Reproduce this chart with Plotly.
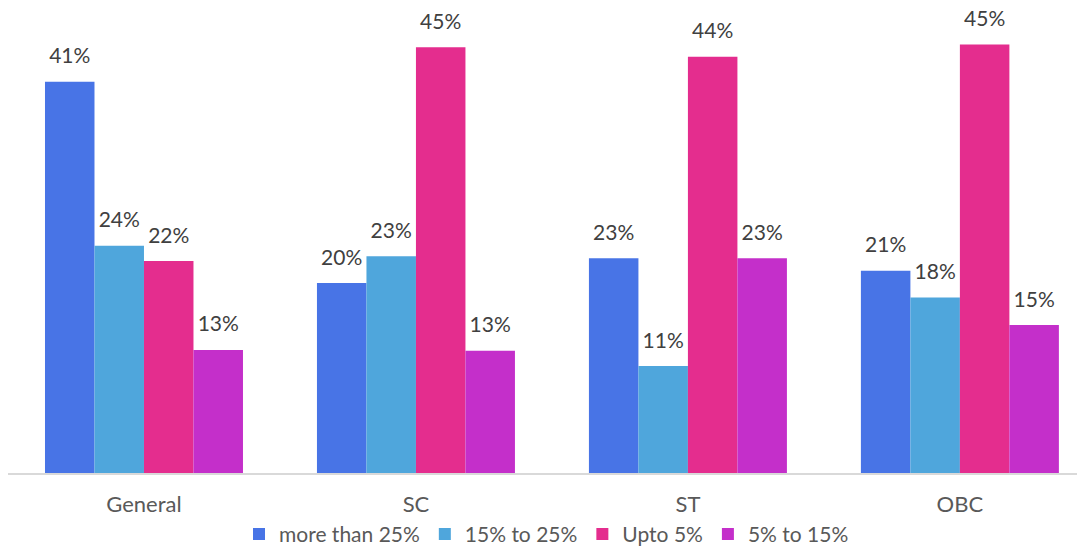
import plotly.graph_objects as go

categories = ["General", "SC", "ST", "OBC"]
series_names = ["more than 25%", "15% to 25%", "Upto 5%", "5% to 15%"]
more_than_25 = [41.0, 19.9, 22.5, 21.2]
from_15_to_25 = [23.8, 22.7, 11.2, 18.4]
upto_5 = [22.2, 44.6, 43.6, 44.9]
from_5_to_15 = [12.9, 12.8, 22.5, 15.5]
labels_more_than_25 = ["41%", "20%", "23%", "21%"]
labels_15_to_25 = ["24%", "23%", "11%", "18%"]
labels_upto_5 = ["22%", "45%", "44%", "45%"]
labels_5_to_15 = ["13%", "13%", "23%", "15%"]

colors = ["#4874E6", "#4FA6DC", "#E42D8E", "#C42FCA"]
values = [more_than_25, from_15_to_25, upto_5, from_5_to_15]
labels = [labels_more_than_25, labels_15_to_25, labels_upto_5, labels_5_to_15]

FONT = "Lato"
LABEL_PAD = 1.2  # gap between bar top and its label, in axis units

fig = go.Figure()
for i, (name, vals, labs, col) in enumerate(zip(series_names, values, labels, colors)):
    fig.add_trace(go.Bar(
        x=categories, y=vals, name=name, offsetgroup=str(i),
        marker=dict(color=col, line=dict(width=0)),
        hoverinfo="skip",
    ))
for i, (vals, labs) in enumerate(zip(values, labels)):
    fig.add_trace(go.Bar(
        x=categories, y=[LABEL_PAD] * len(vals), base=vals, offsetgroup=str(i),
        marker=dict(color="rgba(0,0,0,0)", line=dict(width=0)),
        text=labs, texttemplate="%{text}", textposition="outside",
        textfont=dict(family=FONT, size=21, color="#404040"),
        cliponaxis=False, showlegend=False, hoverinfo="skip",
    ))

fig.update_layout(
    width=1077, height=540,
    barmode="group", bargap=0.272, bargroupgap=0,
    plot_bgcolor="white", paper_bgcolor="white",
    margin=dict(l=0, r=0, t=4, b=75, autoexpand=False),
    showlegend=True,
    legend=dict(orientation="h", x=0.5, xanchor="center",
                y=-0.133, yanchor="middle",
                font=dict(family=FONT, size=21, color="#595959"),
                itemwidth=30, traceorder="normal"),
)
fig.update_xaxes(
    range=[-0.5, 3.46], showgrid=False, showline=True, linecolor="#D9D9D9", linewidth=2,
    ticks="outside", ticklen=11, tickcolor="rgba(0,0,0,0)",
    tickfont=dict(family=FONT, size=22, color="#595959"),
)
fig.update_yaxes(range=[0, 48.3], visible=False, showgrid=False, zeroline=False)

fig.write_html("out.html")
